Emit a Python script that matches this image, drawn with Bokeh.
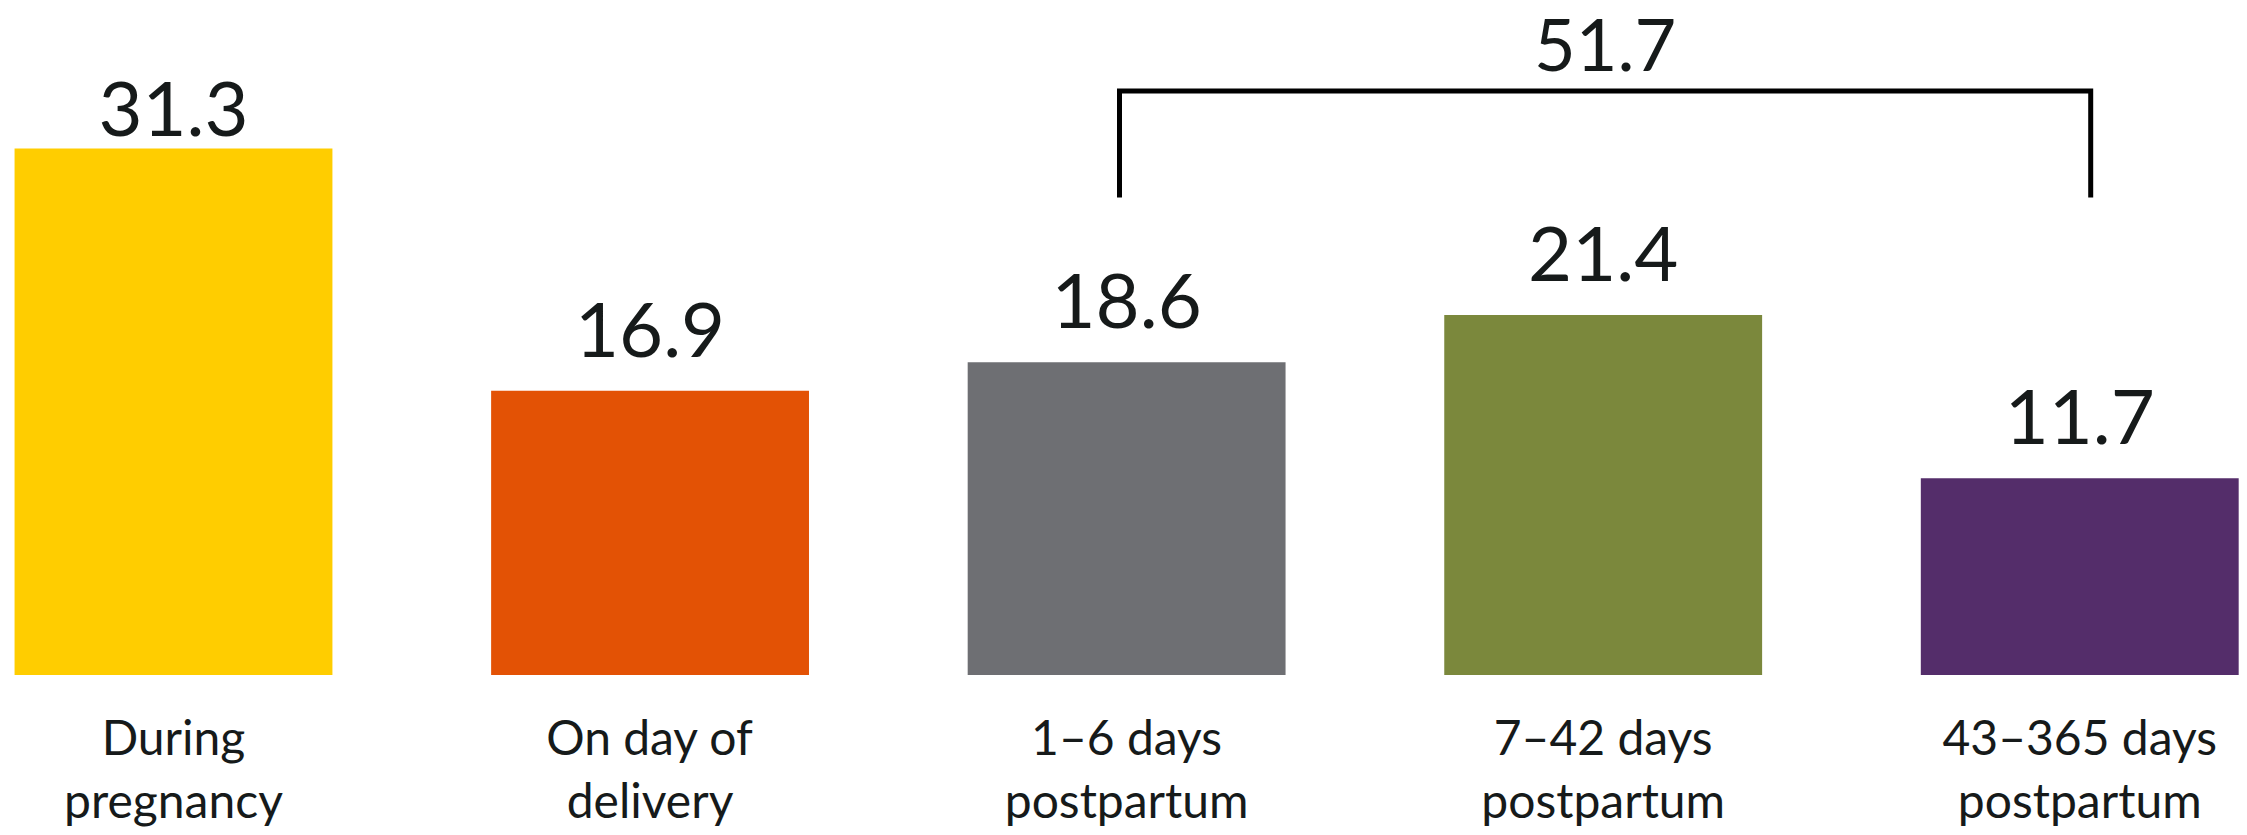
from bokeh.plotting import figure
from bokeh.models import Range1d, ColumnDataSource
from bokeh.core.properties import value
from bokeh.embed import file_html
from bokeh.resources import INLINE

# ---- data ----
categories = ["During\npregnancy", "On day of\ndelivery", "1\u20136 days\npostpartum",
              "7\u201342 days\npostpartum", "43\u2013365 days\npostpartum"]
values = [31.3, 16.9, 18.6, 21.4, 11.7]
colors = ["#FFCD00", "#E35205", "#6E6F73", "#7B883C", "#542D6A"]
bracket_from = 2
bracket_to = 4
bracket_value = "51.7"

FONT = "Lato"
TXT = "#161a1a"

xs = list(range(len(categories)))
line1 = [c.split("\n")[0] for c in categories]
line2 = [c.split("\n")[1] for c in categories]
label_offsets = [-40 if i == 0 else -61 for i in xs]

src = ColumnDataSource(dict(x=xs, top=values, color=colors,
                            lbl=[f"{v:.1f}" for v in values],
                            yoff=label_offsets, l1=line1, l2=line2,
                            zero=[0] * len(xs)))

W, H = 2247, 835
p = figure(width=W, height=H, output_backend="svg", toolbar_location=None,
           x_range=Range1d(-0.363, 4.352), y_range=Range1d(-9.54, 40.10),
           x_axis_type=None, y_axis_type=None, min_border=0)
p.grid.visible = False
p.outline_line_color = None
p.background_fill_color = "white"
p.border_fill_color = "white"

p.vbar(x="x", top="top", bottom=0, width=0.667, fill_color="color",
       line_color=None, source=src)

# value labels
p.text(x="x", y="top", text="lbl", y_offset="yoff", source=src,
       text_font=value(FONT), text_font_size="76px", text_color=TXT,
       text_align="center", text_baseline="alphabetic")

# category labels (two lines)
p.text(x="x", y="zero", text="l1", y_offset=61.5, source=src,
       text_font=value(FONT), text_font_size="48px", text_color=TXT,
       text_align="center", text_baseline="alphabetic")
p.text(x="x", y="zero", text="l2", y_offset=124.5, source=src,
       text_font=value(FONT), text_font_size="48px", text_color=TXT,
       text_align="center", text_baseline="alphabetic")

# bracket
bl = bracket_from - 0.015
br = bracket_to + 0.023
y_top = 34.72
y_bot = 28.39
p.line(x=[bl, bl, br, br], y=[y_bot, y_top, y_top, y_bot],
       line_color="black", line_width=5, line_join="miter")
p.text(x=[(bl + br) / 2], y=[y_top], text=[bracket_value], y_offset=-46,
       text_font=value(FONT), text_font_size="72px", text_color=TXT,
       text_align="center", text_baseline="alphabetic")

open("out.html", "w").write(file_html(p, INLINE))
